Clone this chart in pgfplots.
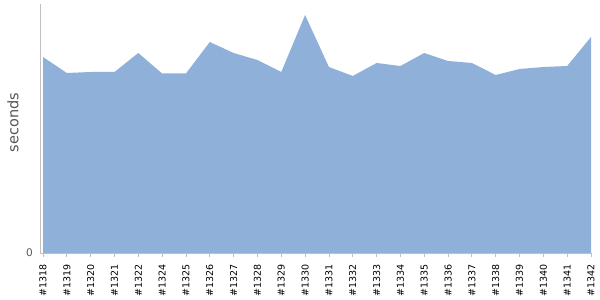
\documentclass[border=0pt]{standalone}
\usepackage{pgfplots}
\pgfplotsset{compat=1.18}
\usepackage{fontspec}
\setmainfont{DejaVu Sans}
\definecolor{areafill}{RGB}{143,177,217}
\definecolor{axgray}{RGB}{192,192,192}
\definecolor{labgray}{RGB}{85,85,85}
\begin{document}
\begin{tikzpicture}
\begin{axis}[
  scale only axis,
  width=551bp, height=249bp,
  xmin=-0.126, xmax=23,
  ymin=0, ymax=249,
  axis x line*=bottom, axis y line*=left,
  axis line style={draw=axgray, line width=0.8bp, -},
  xtick={0,...,23},
  xticklabels={\#1318,\#1319,\#1320,\#1321,\#1322,\#1324,\#1325,\#1326,\#1327,\#1328,\#1329,\#1330,\#1331,\#1332,\#1333,\#1334,\#1335,\#1336,\#1337,\#1338,\#1339,\#1340,\#1341,\#1342},
  xticklabel style={rotate=90, anchor=east, inner sep=0pt, font=\fontsize{9.5bp}{10bp}\selectfont, text=black},
  xticklabel shift=7bp,
  x tick style={draw=axgray, line width=0.8bp},
  tick align=outside,
  major tick length=4bp,
  ytick={0},
  y tick style={draw=none},
  yticklabel style={font=\fontsize{10.5bp}{11bp}\selectfont, text=labgray, inner sep=0pt, anchor=east, xshift=-3bp},
  /pgf/number format/assume math mode=true,
  ylabel={seconds},
  ylabel style={at={(axis description cs:-0.049,0.524)}, anchor=center, font=\fontsize{14.5bp}{15bp}\selectfont, text=labgray},
  clip=false,
]
\addplot[fill=areafill, draw=none] coordinates {
(0,196) (1,180) (2,181) (3,181) (4,200) (5,179.5) (6,179.5) (7,211)
(8,200) (9,193) (10,181) (11,238) (12,186) (13,177) (14,190) (15,187)
(16,200) (17,192) (18,190) (19,178) (20,184) (21,186) (22,187) (23,216)
} \closedcycle;
\end{axis}
\pgfresetboundingbox
\path (-40bp,-47bp) rectangle (560bp,253bp);
\end{tikzpicture}
\end{document}
